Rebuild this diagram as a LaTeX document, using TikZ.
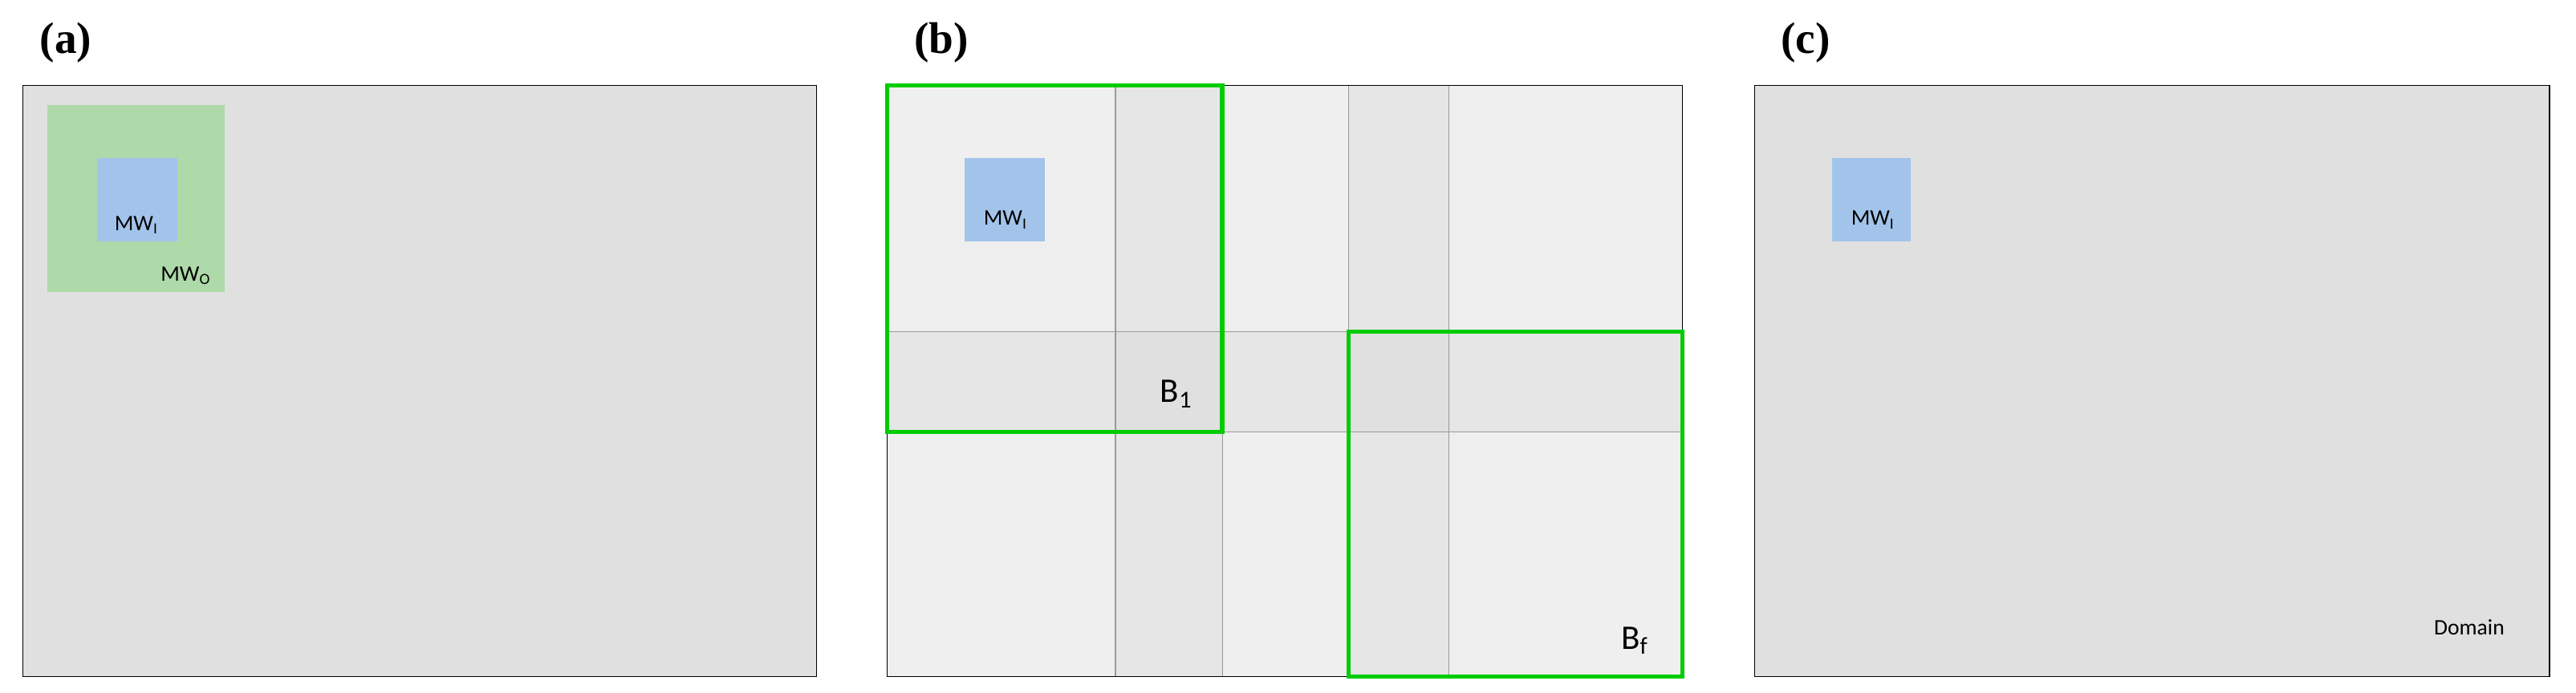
\documentclass[tikz,border=0pt]{standalone}
\usepackage{fontspec}
\setmainfont{Carlito}
\newfontfamily\lblfont{Liberation Serif}
\begin{document}
\begin{tikzpicture}[x=1pt,y=-1pt,
  lbl/.style={font=\lblfont\bfseries\fontsize{27}{30}\selectfont},
  domainbox/.style={draw=black,line width=0.8pt},
  mwi/.style={fill=blueI,draw=none},
  txt/.style={font=\fontsize{13.5}{15}\selectfont,inner sep=0pt},
  big/.style={font=\fontsize{21}{24}\selectfont,inner sep=0pt},
  gbox/.style={draw=greenB,line width=2.6pt},
  gl/.style={draw=gray!80,line width=0.6pt}]
\definecolor{grayA}{HTML}{E0E0E0}
\definecolor{greenO}{HTML}{ADDAA8}
\definecolor{blueI}{HTML}{A3C4EA}
\definecolor{lightB}{HTML}{EFEFEF}
\definecolor{stripB}{HTML}{E6E6E6}
\definecolor{greenB}{HTML}{00CC00}
\useasboundingbox (0,0) rectangle (1568,422);
% panel a
\node[lbl] (la) at (40,26) {(a)};
\fill[grayA] (14,52) rectangle (497,412);
\draw[domainbox] (14,52) rectangle (497,412);
\fill[greenO] (29,64) rectangle (137,178);
\fill[mwi] (59,96) rectangle (108,147);
\node[txt] (mwia) at (83,137) {MW\textsubscript{I}};
\node[txt] (mwo) at (113,168) {MW\textsubscript{O}};
% panel b
\node[lbl] (lb) at (573,26) {(b)};
\fill[lightB] (540,52) rectangle (1024,412);
\fill[stripB] (679,52) rectangle (744,412);
\fill[stripB] (821,52) rectangle (882,412);
\fill[stripB] (540,202) rectangle (1024,263);
\fill[grayA] (679,202) rectangle (744,263);
\fill[grayA] (821,202) rectangle (882,263);
\draw[gl] (679,52) -- (679,412);
\draw[gl] (744,52) -- (744,412);
\draw[gl] (821,52) -- (821,412);
\draw[gl] (882,52) -- (882,412);
\draw[gl] (540,202) -- (1024,202);
\draw[gl] (540,263) -- (1024,263);
\draw[domainbox] (540,52) rectangle (1024,412);
\fill[mwi] (587,96) rectangle (636,147);
\node[txt] (mwib) at (612,134) {MW\textsubscript{I}};
\draw[gbox] (540,52) rectangle (744,263);
\draw[gbox] (821,202) rectangle (1024,412);
\node[big] (b1) at (716,240) {B\textsubscript{1}};
\node[big] (bf) at (995,390) {B\textsubscript{f}};
% panel c
\node[lbl] (lc) at (1099,26) {(c)};
\fill[grayA] (1068,52) rectangle (1552,412);
\draw[domainbox] (1068,52) rectangle (1552,412);
\fill[mwi] (1115,96) rectangle (1163,147);
\node[txt] (mwic) at (1140,134) {MW\textsubscript{I}};
\node[txt] (dom) at (1503,382) {Domain};
\end{tikzpicture}
\end{document}
